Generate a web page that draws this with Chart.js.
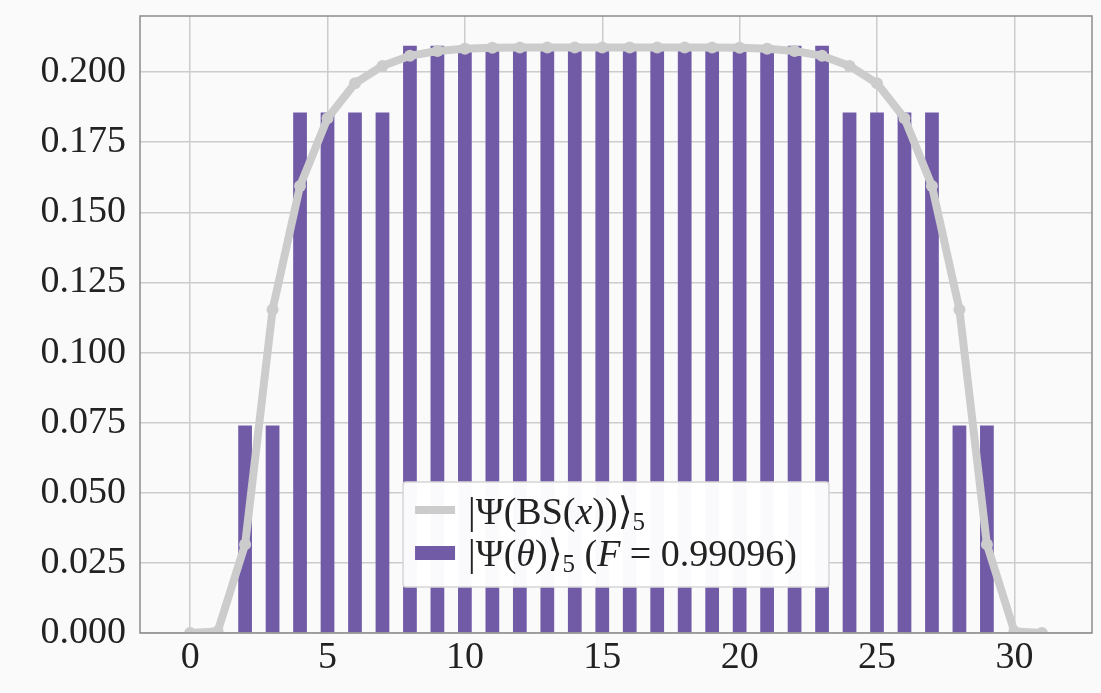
<!DOCTYPE html>
<html>
<head>
<meta charset="utf-8">
<script src="https://cdn.jsdelivr.net/npm/chart.js@4.4.1/dist/chart.umd.min.js"></script>
<style>
  html, body { margin: 0; padding: 0; background: #fafafa; }
  #wrap { width: 1101px; height: 693px; }
</style>
</head>
<body>
<div id="wrap"><canvas id="c"></canvas></div>
<script>
// basis states 0..31
var basis = [0, 1, 2, 3, 4, 5, 6, 7, 8, 9, 10, 11, 12, 13, 14, 15,
             16, 17, 18, 19, 20, 21, 22, 23, 24, 25, 26, 27, 28, 29, 30, 31];

// |Psi(BS(x))>_5 amplitudes (grey line)
var bsValues = [0.0000, 0.0005, 0.0316, 0.1153, 0.1594, 0.1835, 0.1960, 0.2022,
                0.2058, 0.2075, 0.2083, 0.2087, 0.2088, 0.2088, 0.2088, 0.2088,
                0.2088, 0.2088, 0.2088, 0.2088, 0.2087, 0.2083, 0.2075, 0.2058,
                0.2022, 0.1960, 0.1835, 0.1594, 0.1153, 0.0316, 0.0005, 0.0000];

// |Psi(theta)>_5 amplitudes (purple bars)
var thetaValues = [0, 0, 0.0740, 0.0740, 0.1856, 0.1856, 0.1856, 0.1856,
                   0.2094, 0.2094, 0.2094, 0.2094, 0.2094, 0.2094, 0.2094, 0.2094,
                   0.2094, 0.2094, 0.2094, 0.2094, 0.2094, 0.2094, 0.2094, 0.2094,
                   0.1856, 0.1856, 0.1856, 0.1856, 0.0740, 0.0740, 0, 0];

var xTicks = [0, 5, 10, 15, 20, 25, 30];
var yTicks = [0, 0.025, 0.05, 0.075, 0.1, 0.125, 0.15, 0.175, 0.2];

// legend labels as runs: [text, style]  ('' normal, 'i' italic, 's' subscript)
var bsLabel = [['|\u03A8(BS(', ''], ['x', 'i'], ['))\u27E9', ''], ['5', 's']];
var thetaLabel = [['|\u03A8(', ''], ['\u03B8', 'i'], [')\u27E9', ''], ['5', 's'],
                  [' (', ''], ['F', 'i'], [' = 0.99096)', '']];

var FAMILY = "'Liberation Serif', 'DejaVu Serif', serif";
var GREY = '#cccccc';
var PURPLE = '#715ba7';

function points(vals) {
  return basis.map(function (b, i) { return { x: b, y: vals[i] }; });
}

var background = {
  id: 'background',
  beforeDraw: function (chart) {
    var ctx = chart.ctx;
    ctx.save();
    ctx.fillStyle = '#fafafa';
    ctx.fillRect(0, 0, chart.width, chart.height);
    ctx.restore();
  }
};

var frame = {
  id: 'frame',
  afterDatasetsDraw: function (chart) {
    var a = chart.chartArea, ctx = chart.ctx;
    ctx.save();
    ctx.strokeStyle = '#8c8c8c';
    ctx.lineWidth = 1.5;
    ctx.strokeRect(a.left, a.top, a.right - a.left, a.bottom - a.top);
    ctx.restore();
  }
};

var richLegend = {
  id: 'richLegend',
  afterDraw: function (chart) {
    var ctx = chart.ctx, a = chart.chartArea;
    var size = 38, sub = 25;
    var rows = [bsLabel, thetaLabel];

    function fontFor(style) {
      if (style === 'i') return 'italic ' + size + 'px ' + FAMILY;
      if (style === 's') return sub + 'px ' + FAMILY;
      return size + 'px ' + FAMILY;
    }
    function width(runs) {
      var w = 0;
      runs.forEach(function (r) { ctx.font = fontFor(r[1]); w += ctx.measureText(r[0]).width; });
      return w;
    }

    ctx.save();
    var textW = Math.max(width(bsLabel), width(thetaLabel));
    var boxW = 65 + textW + 32, boxH = 105;
    var left = (a.left + a.right) / 2 - boxW / 2;
    var top = a.bottom - 46 - boxH;

    ctx.fillStyle = 'rgba(255,255,255,0.97)';
    ctx.strokeStyle = '#d6d6d6';
    ctx.lineWidth = 1.5;
    ctx.beginPath();
    ctx.roundRect(left, top, boxW, boxH, 3);
    ctx.fill();
    ctx.stroke();

    var ds = chart.data.datasets;
    // line handle
    ctx.strokeStyle = ds[0].borderColor;
    ctx.lineWidth = ds[0].borderWidth;
    ctx.beginPath();
    ctx.moveTo(left + 12, top + 28);
    ctx.lineTo(left + 52, top + 28);
    ctx.stroke();
    // bar handle
    ctx.fillStyle = ds[1].backgroundColor;
    ctx.fillRect(left + 12, top + 64, 40, 14);

    ctx.fillStyle = '#222222';
    ctx.textBaseline = 'alphabetic';
    ctx.textAlign = 'left';
    rows.forEach(function (runs, k) {
      var x = left + 65, y = top + 42 + k * 42;
      runs.forEach(function (r) {
        ctx.font = fontFor(r[1]);
        ctx.fillText(r[0], x, r[1] === 's' ? y + 6 : y);
        x += ctx.measureText(r[0]).width;
      });
    });
    ctx.restore();
  }
};

function keepTicks(list) {
  return function (scale) {
    scale.ticks = list.map(function (v) { return { value: v }; });
  };
}

new Chart(document.getElementById('c'), {
  type: 'bar',
  data: {
    datasets: [
      {
        type: 'line',
        label: 'BS',
        data: points(bsValues),
        borderColor: GREY,
        backgroundColor: GREY,
        borderWidth: 8,
        pointRadius: 6,
        pointBackgroundColor: GREY,
        pointBorderWidth: 0,
        tension: 0,
        order: 0
      },
      {
        type: 'bar',
        label: 'theta',
        data: points(thetaValues),
        backgroundColor: PURPLE,
        borderWidth: 0,
        barPercentage: 0.5,
        categoryPercentage: 1.0,
        order: 1
      }
    ]
  },
  options: {
    responsive: true,
    maintainAspectRatio: false,
    animation: false,
    devicePixelRatio: 1,
    layout: { padding: { top: 16, right: 9, left: 0, bottom: 0 } },
    plugins: { legend: { display: false }, tooltip: { enabled: false } },
    scales: {
      x: {
        type: 'linear',
        offset: false,
        min: -1.825,
        max: 32.825,
        afterBuildTicks: keepTicks(xTicks),
        afterFit: function (s) { s.height = 60; s.paddingLeft = 0; s.paddingRight = 0; },
        grid: { color: '#cccccc', lineWidth: 1.5, drawTicks: false, offset: false },
        border: { display: false },
        ticks: {
          color: '#222222',
          padding: 2,
          font: { family: FAMILY, size: 38 },
          callback: function (v) { return String(v); }
        }
      },
      y: {
        type: 'linear',
        min: 0,
        max: 0.22,
        afterBuildTicks: keepTicks(yTicks),
        afterFit: function (s) { s.width = 140; s.paddingTop = 0; s.paddingBottom = 0; },
        grid: { color: '#cccccc', lineWidth: 1.5, drawTicks: false },
        border: { display: false },
        ticks: {
          color: '#222222',
          padding: 14,
          font: { family: FAMILY, size: 38 },
          callback: function (v) { return v.toFixed(3); }
        }
      }
    }
  },
  plugins: [background, frame, richLegend]
});
</script>
</body>
</html>
